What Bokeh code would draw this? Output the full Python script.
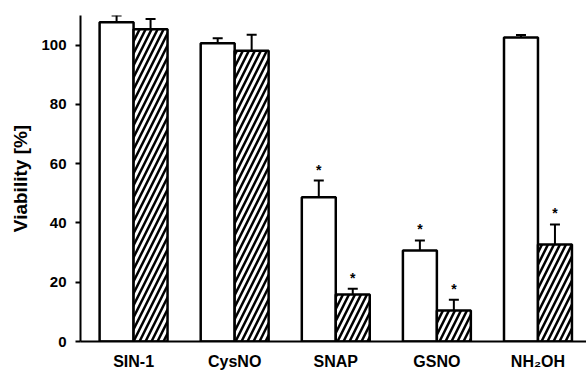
from bokeh.plotting import figure
from bokeh.models import Range1d, FixedTicker, Whisker, TeeHead, ColumnDataSource
from bokeh.core.properties import value
from bokeh.embed import file_html
from bokeh.resources import INLINE

categories = ["SIN-1", "CysNO", "SNAP", "GSNO", "NH\u2082OH"]
open_vals = [107.7, 100.6, 48.7, 30.7, 102.6]
open_errs = [2.3, 1.7, 5.6, 3.4, 0.8]
open_sig = [False, False, True, True, False]
hatch_vals = [105.4, 98.1, 15.9, 10.5, 32.7]
hatch_errs = [3.4, 5.4, 1.9, 3.6, 6.8]
hatch_sig = [False, False, True, True, True]
y_ticks = [0, 20, 40, 60, 80, 100]

FONT = "Liberation Sans"
BAR_W = 0.336
OFF = 0.168

xs = list(range(1, len(categories) + 1))

p = figure(width=586, height=372, output_backend="svg", toolbar_location=None,
           x_range=Range1d(0.475, 5.48), y_range=Range1d(0, 110),
           min_border_left=80, min_border_right=0, min_border_top=15,
           min_border_bottom=29)
p.background_fill_color = "white"
p.border_fill_color = "white"
p.outline_line_color = None
p.grid.visible = False

src_o = ColumnDataSource(dict(x=[x - OFF for x in xs], top=open_vals,
                              upper=[v + e for v, e in zip(open_vals, open_errs)]))
src_h = ColumnDataSource(dict(x=[x + OFF for x in xs], top=hatch_vals,
                              upper=[v + e for v, e in zip(hatch_vals, hatch_errs)]))

for src, hatched in ((src_o, False), (src_h, True)):
    wk = Whisker(source=src, base="x", lower="top", upper="upper",
                 line_color="black", line_width=2,
                 upper_head=TeeHead(size=10, line_width=2, line_color="black"),
                 lower_head=None)
    p.add_layout(wk)
    if hatched:
        p.vbar(x="x", top="top", bottom=0, width=BAR_W, source=src,
               fill_color="white", line_color="black", line_width=2.5,
               hatch_pattern="/", hatch_color="black", hatch_scale=12,
               hatch_weight=2.5)
    else:
        p.vbar(x="x", top="top", bottom=0, width=BAR_W, source=src,
               fill_color="white", line_color="black", line_width=2.5)

star_x = [x - OFF for x, s in zip(xs, open_sig) if s] + \
         [x + OFF for x, s in zip(xs, hatch_sig) if s]
star_y = [v + e for v, e, s in zip(open_vals, open_errs, open_sig) if s] + \
         [v + e for v, e, s in zip(hatch_vals, hatch_errs, hatch_sig) if s]
p.text(x=star_x, y=star_y, text=["*"] * len(star_x), text_align="center",
       text_baseline="alphabetic", y_offset=-11, text_font=value(FONT),
       text_font_style="bold", text_font_size="14px", text_color="black")

# axes
p.yaxis.ticker = FixedTicker(ticks=y_ticks)
p.yaxis.axis_label = "Viability [%]"
p.yaxis.axis_label_text_font = FONT
p.yaxis.axis_label_text_font_style = "bold"
p.yaxis.axis_label_text_font_size = "19px"
p.yaxis.axis_label_text_color = "black"
p.yaxis.axis_label_standoff = 7
p.yaxis.major_label_text_font = FONT
p.yaxis.major_label_text_font_style = "bold"
p.yaxis.major_label_text_font_size = "15px"
p.yaxis.major_label_text_color = "black"
p.yaxis.major_label_standoff = 9
p.yaxis.axis_line_width = 2
p.yaxis.major_tick_line_width = 2
p.yaxis.major_tick_out = 5
p.yaxis.major_tick_in = 0
p.yaxis.minor_tick_line_color = None

p.xaxis.ticker = FixedTicker(ticks=xs)
p.xaxis.major_label_overrides = {x: c for x, c in zip(xs, categories)}
p.xaxis.major_label_text_font = FONT
p.xaxis.major_label_text_font_style = "bold"
p.xaxis.major_label_text_font_size = "16px"
p.xaxis.major_label_text_color = "black"
p.xaxis.major_label_standoff = 11
p.xaxis.axis_line_width = 2
p.xaxis.major_tick_line_color = None
p.xaxis.major_tick_out = 0
p.xaxis.major_tick_in = 0
p.xaxis.minor_tick_line_color = None

open("out.html", "w").write(file_html(p, INLINE))
